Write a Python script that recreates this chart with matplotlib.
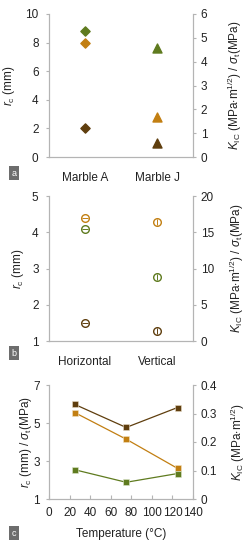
import matplotlib
matplotlib.use("Agg")
import matplotlib.pyplot as plt

plt.rcParams['font.family'] = ['Liberation Sans', 'DejaVu Sans']
plt.rcParams['mathtext.fontset'] = 'custom'
plt.rcParams['mathtext.rm'] = 'Liberation Sans'
plt.rcParams['mathtext.it'] = 'Liberation Sans:italic'
plt.rcParams['mathtext.bf'] = 'Liberation Sans:bold'

# ---- data ----
marbles = ["Marble A", "Marble J"]
a_rc = [2.0, 1.0]            # left axis (mm)
a_kic = [4.8, 1.68]          # right axis
a_sigma = [5.28, 4.59]       # right axis

orient = ["Horizontal", "Vertical"]
b_rc = [1.5, 1.28]           # left axis (mm)
b_kic = [17.0, 16.4]         # right axis
b_sigma = [15.5, 8.85]       # right axis

temps = [25, 75, 125]
c_kic = [0.332, 0.251, 0.321]   # right axis
c_rc = [5.55, 4.15, 2.61]       # left axis
c_sigma = [2.54, 1.88, 2.34]    # left axis

BROWN = '#5f3e0e'
ORANGE = '#c27f12'
GREEN = '#5f7b1f'
SPINE = '#b4b4b4'
TXT = '#222222'
FS = 8.5

fig = plt.figure(figsize=(2.49, 5.5), dpi=100)

def style(ax, ax2, bottom_ticks=False, lpad=5):
    for a in (ax, ax2):
        for s in a.spines.values():
            s.set_color(SPINE)
            s.set_linewidth(0.8)
        a.spines['top'].set_visible(False)
    ax.tick_params(axis='y', direction='out', length=2.5, width=0.8, color=SPINE,
                   labelsize=FS, labelcolor=TXT, pad=lpad)
    ax2.tick_params(axis='y', direction='out', length=2.5, width=0.8, color=SPINE,
                    labelsize=FS, labelcolor=TXT, pad=3)
    if bottom_ticks:
        ax.tick_params(axis='x', direction='in', length=3, width=0.8, color=SPINE,
                       labelsize=FS, labelcolor=TXT, pad=6)
    else:
        ax.tick_params(axis='x', length=0, labelsize=FS, labelcolor=TXT, pad=11)

def tag(letter, x, y):
    fig.text(x, y, letter, color='white', fontsize=6.5, ha='center', va='center',
             bbox=dict(boxstyle='square,pad=0.25', fc='#6d6d6d', ec='none'))

RIGHT_AB = r'$K_{\mathrm{IC}}$ (MPa$\cdot$m$^{1/2}$) / $\sigma_{\mathrm{t}}$(MPa)'

# ---- panel a ----
axa = fig.add_axes([49/249, 1-157/550, 144/249, 143/550])
axa2 = axa.twinx()
xa = list(range(len(marbles)))
axa.scatter(xa[:1], a_rc[:1], marker='D', s=22, color=BROWN, zorder=3)
axa.scatter(xa[1:], a_rc[1:], marker='^', s=42, color=BROWN, zorder=3)
axa2.scatter(xa[:1], a_kic[:1], marker='D', s=22, color=ORANGE, zorder=3)
axa2.scatter(xa[1:], a_kic[1:], marker='^', s=42, color=ORANGE, zorder=3)
axa2.scatter(xa[:1], a_sigma[:1], marker='D', s=22, color=GREEN, zorder=3)
axa2.scatter(xa[1:], a_sigma[1:], marker='^', s=42, color=GREEN, zorder=3)
axa.set_xlim(-0.5, 1.5)
axa.set_ylim(0, 10)
axa.set_yticks([0, 2, 4, 6, 8, 10])
axa2.set_ylim(0, 6)
axa2.set_yticks([0, 1, 2, 3, 4, 5, 6])
axa.set_xticks(xa)
axa.set_xticklabels(marbles)
style(axa, axa2)
axa.set_ylabel(r'$r_{\mathrm{c}}$ (mm)', fontsize=FS, color=TXT)
axa2.set_ylabel(RIGHT_AB, fontsize=FS, color=TXT)
axa.yaxis.set_label_coords(-0.22, 0.5)
axa2.yaxis.set_label_coords(1.225, 0.5)
tag('a', 14/249, 1-173/550)

# ---- panel b ----
axb = fig.add_axes([49/249, 1-341/550, 144/249, 145/550])
axb2 = axb.twinx()
xb = list(range(len(orient)))
bars = ['_', '|']
for i in xb:
    axb.plot(xb[i], b_rc[i], marker='o', ms=5.5, mfc='none', mec=BROWN, mew=1.0, ls='none', zorder=3)
    axb.plot(xb[i], b_rc[i], marker=bars[i], ms=4.5, mec=BROWN, mew=0.7, ls='none', zorder=3)
    axb2.plot(xb[i], b_kic[i], marker='o', ms=5.5, mfc='none', mec=ORANGE, mew=1.0, ls='none', zorder=3)
    axb2.plot(xb[i], b_kic[i], marker=bars[i], ms=4.5, mec=ORANGE, mew=0.7, ls='none', zorder=3)
    axb2.plot(xb[i], b_sigma[i], marker='o', ms=5.5, mfc='none', mec=GREEN, mew=1.0, ls='none', zorder=3)
    axb2.plot(xb[i], b_sigma[i], marker=bars[i], ms=4.5, mec=GREEN, mew=0.7, ls='none', zorder=3)
axb.set_xlim(-0.5, 1.5)
axb.set_ylim(1, 5)
axb.set_yticks([1, 2, 3, 4, 5])
axb2.set_ylim(0, 20)
axb2.set_yticks([0, 5, 10, 15, 20])
axb.set_xticks(xb)
axb.set_xticklabels(orient)
style(axb, axb2)
axb.set_ylabel(r'$r_{\mathrm{c}}$ (mm)', fontsize=FS, color=TXT)
axb2.set_ylabel(RIGHT_AB, fontsize=FS, color=TXT)
axb.yaxis.set_label_coords(-0.16, 0.5)
axb2.yaxis.set_label_coords(1.245, 0.5)
tag('b', 14/249, 1-353/550)

# ---- panel c ----
axc = fig.add_axes([49/249, 1-499/550, 144/249, 114/550])
axc2 = axc.twinx()
axc2.plot(temps, c_kic, color=BROWN, lw=0.9, marker='s', ms=5, mec='#e8dcc8', mew=0.4, zorder=3)
axc.plot(temps, c_rc, color=ORANGE, lw=0.9, marker='s', ms=5, mec='#f3e3c4', mew=0.4, zorder=3)
axc.plot(temps, c_sigma, color=GREEN, lw=0.9, marker='s', ms=5, mec='#dfe8cf', mew=0.4, zorder=3)
axc.set_xlim(0, 140)
axc.set_xticks([0, 20, 40, 60, 80, 100, 120, 140])
axc.set_ylim(1, 7)
axc.set_yticks([1, 3, 5, 7])
axc2.set_ylim(0, 0.4)
axc2.set_yticks([0, 0.1, 0.2, 0.3, 0.4])
axc2.set_yticklabels(['0', '0.1', '0.2', '0.3', '0.4'])
style(axc, axc2, bottom_ticks=True, lpad=4)
axc.set_xlabel('Temperature (°C)', fontsize=FS, color=TXT, labelpad=6)
axc.set_ylabel(r'$r_{\mathrm{c}}$ (mm) / $\sigma_{\mathrm{t}}$(MPa)', fontsize=FS, color=TXT)
axc2.set_ylabel(r'$K_{\mathrm{IC}}$ (MPa$\cdot$m$^{1/2}$)', fontsize=FS, color=TXT)
axc.yaxis.set_label_coords(-0.105, 0.5)
axc2.yaxis.set_label_coords(1.25, 0.5)
tag('c', 14/249, 1-533/550)

fig.savefig('out.png', dpi=100)
